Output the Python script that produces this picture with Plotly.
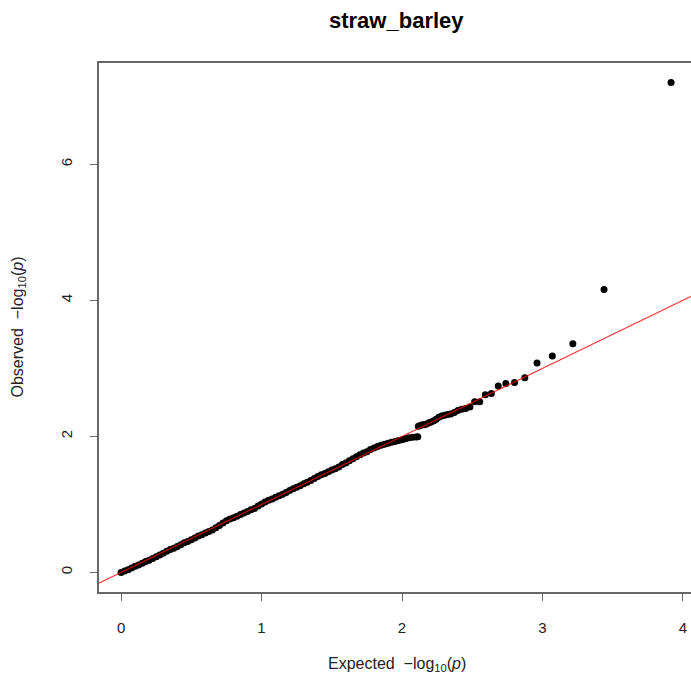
import plotly.graph_objects as go

# Dense body of the QQ plot (expected, observed)
body_expected = [0.000, 0.025, 0.050, 0.075, 0.100, 0.125, 0.150, 0.175, 0.200, 0.225,
                 0.250, 0.275, 0.300, 0.325, 0.350, 0.375, 0.400, 0.425, 0.450, 0.475,
                 0.500, 0.525, 0.550, 0.575, 0.600, 0.625, 0.650, 0.675, 0.700, 0.725,
                 0.750, 0.775, 0.800, 0.825, 0.850, 0.875, 0.900, 0.925, 0.950, 0.975,
                 1.000, 1.025, 1.050, 1.075, 1.100, 1.125, 1.150, 1.175, 1.200, 1.225,
                 1.250, 1.275, 1.300, 1.325, 1.350, 1.375, 1.400, 1.425, 1.450, 1.475,
                 1.500, 1.525, 1.550, 1.575, 1.600, 1.625, 1.650, 1.675, 1.700, 1.725,
                 1.750, 1.775, 1.800, 1.825, 1.850, 1.875, 1.900, 1.925, 1.950, 1.975,
                 2.000, 2.025, 2.050, 2.075, 2.100, 2.112]
body_observed = [0.000, 0.020, 0.040, 0.065, 0.090, 0.110, 0.135, 0.160, 0.180, 0.205,
                 0.230, 0.255, 0.280, 0.310, 0.335, 0.355, 0.380, 0.405, 0.435, 0.455,
                 0.480, 0.505, 0.535, 0.555, 0.580, 0.600, 0.625, 0.655, 0.690, 0.725,
                 0.760, 0.785, 0.805, 0.825, 0.850, 0.875, 0.895, 0.920, 0.940, 0.975,
                 1.005, 1.035, 1.060, 1.080, 1.105, 1.125, 1.150, 1.175, 1.205, 1.230,
                 1.250, 1.275, 1.305, 1.325, 1.350, 1.380, 1.410, 1.435, 1.455, 1.480,
                 1.505, 1.525, 1.550, 1.585, 1.610, 1.640, 1.670, 1.700, 1.730, 1.755,
                 1.775, 1.805, 1.830, 1.850, 1.870, 1.885, 1.900, 1.915, 1.925, 1.940,
                 1.950, 1.965, 1.980, 1.985, 1.990, 1.995]

# Upper tail points (expected, observed)
tail_expected = [2.116, 2.130, 2.144, 2.159, 2.175, 2.191, 2.207, 2.226, 2.243, 2.262,
                 2.282, 2.302, 2.324, 2.347, 2.372, 2.397, 2.424, 2.452, 2.483, 2.517,
                 2.553, 2.593, 2.636, 2.685, 2.739, 2.801, 2.874, 2.961, 3.070, 3.216,
                 3.438, 3.915]
tail_observed = [2.150, 2.160, 2.170, 2.170, 2.180, 2.200, 2.210, 2.230, 2.250, 2.280,
                 2.300, 2.310, 2.320, 2.330, 2.350, 2.380, 2.400, 2.410, 2.430, 2.510,
                 2.510, 2.610, 2.630, 2.740, 2.775, 2.790, 2.860, 3.080, 3.180, 3.360,
                 4.160, 7.200]

# Reference line y = x
ref_x = [-1.0, 5.0]
ref_y = [-1.0, 5.0]

x_ticks = [0, 1, 2, 3, 4]
y_ticks = [0, 2, 4, 6]

fig = go.Figure()
fig.add_trace(go.Scatter(x=body_expected, y=body_observed, mode="markers",
                         marker=dict(color="black", size=7, line=dict(width=0)),
                         hoverinfo="skip"))
fig.add_trace(go.Scatter(x=tail_expected, y=tail_observed, mode="markers",
                         marker=dict(color="black", size=7, line=dict(width=0)),
                         cliponaxis=False))
fig.add_trace(go.Scatter(x=ref_x, y=ref_y, mode="lines",
                         line=dict(color="rgba(255,0,0,0.8)", width=1.1)))

tick_font = dict(family="Liberation Sans, Arial, sans-serif", size=15, color="#222")
label_font = dict(family="Liberation Sans, Arial, sans-serif", size=16, color="#222")

fig.update_layout(
    width=691, height=683,
    margin=dict(l=99, r=0, t=63, b=91, autoexpand=False),
    paper_bgcolor="white", plot_bgcolor="white",
    showlegend=False,
    font=tick_font,
    xaxis=dict(range=[-0.157, 4.057], tickvals=x_ticks, ticktext=[str(v) for v in x_ticks],
               showgrid=False, zeroline=False, showline=True, mirror=True, automargin=False,
               linecolor="#666", linewidth=1.5, ticks="outside", ticklen=7,
               tickcolor="#666", tickwidth=1.2, ticklabelstandoff=14, tickfont=tick_font),
    yaxis=dict(range=[-0.288, 7.488], tickvals=y_ticks, ticktext=[str(v) for v in y_ticks],
               showgrid=False, zeroline=False, showline=True, mirror=True, automargin=False,
               linecolor="#666", linewidth=1.5, ticks="outside", ticklen=7,
               tickcolor="#666", tickwidth=1.2, tickangle=-90, ticklabelstandoff=12,
               tickfont=tick_font),
    annotations=[
        dict(text="<b>straw_barley</b>", xref="paper", yref="paper", x=0.503, y=1,
             yshift=43, xanchor="center", yanchor="middle", showarrow=False,
             font=dict(family="Liberation Sans, Arial, sans-serif", size=22, color="black")),
        dict(text="Expected  \u2212log<sub>10</sub>(<i>p</i>)", xref="paper", yref="paper",
             x=0.503, y=0, yshift=-72, xanchor="center", yanchor="middle", showarrow=False,
             font=label_font),
        dict(text="Observed  \u2212log<sub>10</sub>(<i>p</i>)", xref="paper", yref="paper",
             x=0, y=0.5, xshift=-81, xanchor="center", yanchor="middle", textangle=-90,
             showarrow=False, font=label_font),
    ],
)

fig.write_html("out.html",
               config={"displayModeBar": False},
               post_script="document.body.style.margin='0px';"
                           "document.body.style.overflow='hidden';")
